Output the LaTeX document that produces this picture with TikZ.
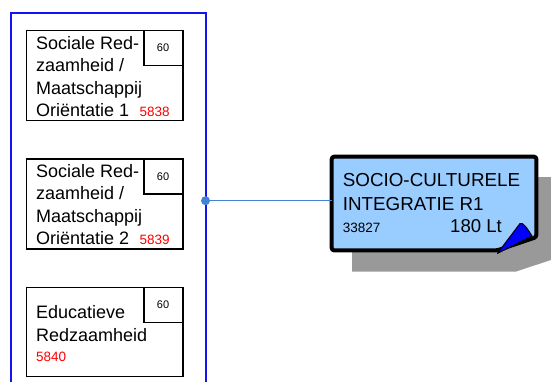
\documentclass[tikz,border=0pt]{standalone}
\usepackage{fontspec}
\setmainfont{Liberation Sans}
\definecolor{frameblue}{RGB}{20,20,240}
\definecolor{linkblue}{RGB}{70,130,210}
\definecolor{notefill}{RGB}{153,204,255}
\definecolor{shadowgray}{RGB}{153,153,153}
\begin{document}
\begin{tikzpicture}[x=1pt,y=-1pt,
  frame/.style={draw=frameblue,line width=1.5pt},
  taskbox/.style={draw=black,line width=1.2pt,fill=white,rectangle,inner sep=0pt,minimum width=156.6pt,anchor=north west},
  durbox/.style={draw=black,line width=1.2pt,fill=white,rectangle,inner sep=0pt,minimum width=39pt,minimum height=35pt,anchor=north east},
  lbl/.style={anchor=base west,inner sep=0pt,font=\fontsize{18}{22}\selectfont},
  num/.style={anchor=base west,inner sep=0pt,font=\fontsize{13.5}{15}\selectfont,text=red},
  dur/.style={anchor=base,inner sep=0pt,font=\fontsize{11}{13}\selectfont},
  link/.style={draw=linkblue,line width=1pt}]
\useasboundingbox (0,0) rectangle (551,381);
\fill[white] (0,0) rectangle (551,381);
% container
\node[frame,rectangle,inner sep=0pt,minimum width=195pt,minimum height=390pt,anchor=north west] (lane) at (10,12) {};
% box 1
\node[taskbox,minimum height=90pt] (t1) at (25.7,30) {};
\node[durbox] (d1) at (t1.north east) {};
\node[dur] (d1t) at (163,51.7) {60};
\node[lbl] (t1a) at (36,49.3) {Sociale Red-};
\node[lbl] (t1b) at (36,71.7) {zaamheid /};
\node[lbl] (t1c) at (36,94) {Maatschappij};
\node[lbl] (t1d) at (36,116.7) {Oriëntatie 1};
\node[num] (n1) at (139.3,116.7) {5838};
% box 2
\node[taskbox,minimum height=90pt] (t2) at (25.7,158.3) {};
\node[durbox] (d2) at (t2.north east) {};
\node[dur] (d2t) at (163,180) {60};
\node[lbl] (t2a) at (36,177.3) {Sociale Red-};
\node[lbl] (t2b) at (36,199.7) {zaamheid /};
\node[lbl] (t2c) at (36,222) {Maatschappij};
\node[lbl] (t2d) at (36,244.5) {Oriëntatie 2};
\node[num] (n2) at (139.3,244.5) {5839};
% box 3
\node[taskbox,minimum height=89.3pt] (t3) at (25.7,286.7) {};
\node[durbox] (d3) at (t3.north east) {};
\node[dur] (d3t) at (163,308) {60};
\node[lbl] (t3a) at (36,318.3) {Educatieve};
\node[lbl] (t3b) at (36,341) {Redzaamheid};
\node[num] (n3) at (36,361.7) {5840};
% shadow of note
\fill[shadowgray] (352,177) -- (560,177) -- (560,257) -- (516,271.5) -- (352,271.5) -- cycle;
% note
\node[rectangle,inner sep=0pt,minimum width=204.3pt,minimum height=93.3pt,anchor=north west] (note) at (331.7,156.7) {};
\draw[fill=notefill,line width=4pt,rounded corners=2.5pt] (note.north west) -- (note.north east) -- ([yshift=13.3pt]note.south east) -- ([xshift=-39.3pt]note.south east) -- (note.south west) -- cycle;
\draw[fill=blue,line width=1pt,line join=round] ([xshift=-39pt,yshift=-3pt]note.south east) -- (520,223.5) .. controls (523,222) and (527,228) .. (532,236) -- cycle;
\node[anchor=base west,inner sep=0pt,font=\fontsize{18.8}{22}\selectfont] (nt1) at (342.7,186.7) {SOCIO-CULTURELE};
\node[anchor=base west,inner sep=0pt,font=\fontsize{18.8}{22}\selectfont] (nt2) at (342.7,210) {INTEGRATIE R1};
\node[anchor=base west,inner sep=0pt,font=\fontsize{13.5}{15}\selectfont] (nt3) at (342.7,232.3) {33827};
\node[anchor=base west,inner sep=0pt,font=\fontsize{18.6}{22}\selectfont] (nt4) at (450,232.3) {180 Lt};
% connector
\coordinate (dot) at (205.5,200.7);
\draw[link] (dot) -- (dot -| note.west);
\fill[linkblue] (dot) circle (4.5pt);
\end{tikzpicture}
\end{document}
